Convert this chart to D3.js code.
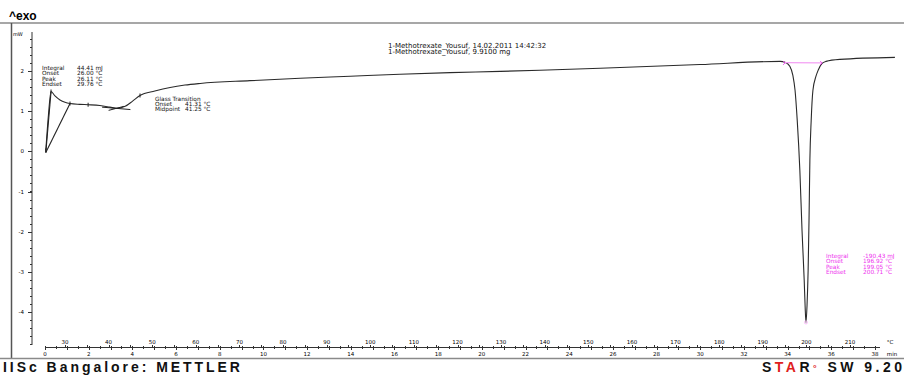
<!DOCTYPE html>
<html>
<head>
<meta charset="utf-8">
<script src="https://cdn.jsdelivr.net/npm/d3@7/dist/d3.min.js"></script>
<style>
  body { margin: 0; background: #fff; }
  svg { display: block; }
  text { font-family: "DejaVu Sans", sans-serif; }
</style>
</head>
<body>
<div id="chart"></div>
<script>
// DSC curve: temperature (°C) vs heat flow (mW)
const tempC = [25.6, 26.2, 26.8, 27.7, 28.85, 30.0, 31.15, 33.4, 35.3, 38.0, 40.3, 41.9, 43.8, 45.5, 47.2,
  50.6, 54.1, 57.5, 61.0, 72.4, 83.9, 95.4, 106.8, 118.3, 129.8, 138.9, 152.7, 175.6, 194.0, 195.1,
  196.2, 196.9, 197.4, 197.9, 198.5, 199.0, 199.5, 199.7, 199.9, 200.15, 200.4, 200.6, 200.8, 201.1,
  201.5, 202.2, 202.7, 203.6, 204.5, 207.7, 220.3];
const heatFlow = [0.02, 0.9, 1.49, 1.38, 1.28, 1.22, 1.19, 1.17, 1.16, 1.14, 1.1, 1.07, 1.12, 1.25, 1.39,
  1.5, 1.59, 1.65, 1.69, 1.76, 1.82, 1.87, 1.92, 1.96, 1.99, 2.02, 2.07, 2.16, 2.24, 2.22,
  2.12, 1.89, 1.52, 0.77, -0.47, -1.97, -3.21, -3.83, -4.26, -3.83, -2.96, -1.73, -0.22, 0.77,
  1.52, 1.87, 2.02, 2.19, 2.24, 2.29, 2.34];

const yTickValues = [-4, -3, -2, -1, 0, 1, 2];
const tempTicks = [30, 40, 50, 60, 70, 80, 90, 100, 110, 120, 130, 140, 150, 160, 170, 180, 190, 200, 210];
const timeTicks = d3.range(0, 39, 2);

const titleLines = ["1-Methotrexate_Yousuf, 14.02.2011 14:42:32", "1-Methotrexate_Yousuf, 9.9100 mg"];
const firstPeakLabels = ["Integral", "Onset", "Peak", "Endset"];
const firstPeakValues = ["44.41 mJ", "26.00 °C", "26.11 °C", "29.76 °C"];
const glassLabels = ["Glass Transition", "Onset", "Midpoint"];
const glassValues = ["", "41.31 °C", "41.25 °C"];
const meltLabels = ["Integral", "Onset", "Peak", "Endset"];
const meltValues = ["-190.43 mJ", "196.92 °C", "199.05 °C", "200.71 °C"];

const width = 904, height = 375;

const svg = d3.select('#chart').append('svg')
  .attr('width', width)
  .attr('height', height);

const x = d3.scaleLinear().domain([30, 210]).range([65, 850]);   // temperature
const xt = d3.scaleLinear().domain([0, 38]).range([45, 875]);    // time, min
const y = d3.scaleLinear().domain([-4, 2]).range([312, 71]);

// frame
svg.append('line').attr('x1', 0).attr('x2', width).attr('y1', 23).attr('y2', 23)
  .attr('stroke', '#8a8a8a').attr('stroke-width', 1.5);
svg.append('line').attr('x1', 11.5).attr('x2', 11.5).attr('y1', 23).attr('y2', 358)
  .attr('stroke', '#555').attr('stroke-width', 1.5);
svg.append('line').attr('x1', 0).attr('x2', width).attr('y1', 358.5).attr('y2', 358.5)
  .attr('stroke', '#8a8a8a').attr('stroke-width', 1.5);

svg.append('text').attr('x', 9).attr('y', 19.5)
  .style('font-family', 'Liberation Sans, Arial, sans-serif').style('font-weight', 'bold').style('font-size', '12px')
  .text('^exo');

// y axis
const yAxisG = svg.append('g').attr('transform', 'translate(32,0)');
yAxisG.append('line').attr('y1', 32).attr('y2', 345).attr('stroke', '#333');
yAxisG.selectAll('.minor').data(d3.range(-4.8, 3.0, 0.2)).join('line')
  .attr('x1', -2).attr('x2', 0)
  .attr('y1', d => Math.round(y(d)) + 0.5).attr('y2', d => Math.round(y(d)) + 0.5)
  .attr('stroke', '#333');
yAxisG.selectAll('.major').data(yTickValues).join('line')
  .attr('x1', -4).attr('x2', 0)
  .attr('y1', d => Math.round(y(d)) + 0.5).attr('y2', d => Math.round(y(d)) + 0.5)
  .attr('stroke', '#333');
yAxisG.selectAll('text').data(yTickValues).join('text')
  .attr('x', -8).attr('y', d => y(d) + 2)
  .attr('text-anchor', 'end').style('font-size', '5.5px')
  .text(d => d);
svg.append('text').attr('x', 13).attr('y', 35.5).style('font-size', '5px').text('mW');

// x axes (temperature above, time below)
const xAxisY = 347;
svg.append('line').attr('x1', 45).attr('x2', 880).attr('y1', xAxisY + 0.5).attr('y2', xAxisY + 0.5)
  .attr('stroke', '#333');
svg.selectAll('.tmin').data(d3.range(0, 38.01, 0.5)).join('line')
  .attr('x1', d => Math.round(xt(d)) + 0.5).attr('x2', d => Math.round(xt(d)) + 0.5)
  .attr('y1', xAxisY - 1).attr('y2', d => xAxisY + (d % 1 === 0 ? 3 : 2))
  .attr('stroke', '#333');
svg.selectAll('.ttick').data(d3.range(30, 211, 5)).join('line')
  .attr('x1', d => Math.round(x(d)) + 0.5).attr('x2', d => Math.round(x(d)) + 0.5)
  .attr('y1', xAxisY - 2).attr('y2', xAxisY)
  .attr('stroke', '#333');
svg.selectAll('.tlab').data(tempTicks).join('text')
  .attr('x', d => x(d)).attr('y', 343.5)
  .attr('text-anchor', 'middle').style('font-size', '5.5px')
  .text(d => d);
svg.selectAll('.mlab').data(timeTicks).join('text')
  .attr('x', d => xt(d)).attr('y', 356)
  .attr('text-anchor', 'middle').style('font-size', '5.5px')
  .text(d => d);
svg.append('text').attr('x', 890).attr('y', 343.5).attr('text-anchor', 'middle').style('font-size', '5.5px').text('°C');
svg.append('text').attr('x', 892).attr('y', 356).attr('text-anchor', 'middle').style('font-size', '5.5px').text('min');

// curve
const line = d3.line()
  .x((d, i) => x(tempC[i]))
  .y((d, i) => y(heatFlow[i]))
  .curve(d3.curveMonotoneX);

svg.append('path')
  .datum(tempC)
  .attr('d', line)
  .attr('fill', 'none')
  .attr('stroke', '#2a2a2a')
  .attr('stroke-width', 1.1);

// evaluation lines on the first peak and glass transition
svg.append('line')
  .attr('x1', x(tempC[0])).attr('y1', y(-0.03))
  .attr('x2', x(tempC[6])).attr('y2', y(heatFlow[6]))
  .attr('stroke', '#222').attr('stroke-width', 1.1);
svg.append('line')
  .attr('x1', x(tempC[0])).attr('y1', y(-0.03))
  .attr('x2', x(tempC[2])).attr('y2', y(heatFlow[2]))
  .attr('stroke', '#222').attr('stroke-width', 1.1);
svg.append('line')
  .attr('x1', x(38.5)).attr('y1', y(1.1))
  .attr('x2', x(45)).attr('y2', y(1.04))
  .attr('stroke', '#222');
svg.append('line')
  .attr('x1', x(40)).attr('y1', y(1.02))
  .attr('x2', x(43.5)).attr('y2', y(1.12))
  .attr('stroke', '#222');
const markIdx = [0, 2, 6, 8, 14];
svg.selectAll('.mark').data(markIdx).join('line')
  .attr('x1', i => x(tempC[i])).attr('x2', i => x(tempC[i]))
  .attr('y1', i => y(heatFlow[i]) - 2).attr('y2', i => y(heatFlow[i]) + 2)
  .attr('stroke', '#222');

// melting peak baseline (pink)
const pink = '#ee33ee';
svg.append('line')
  .attr('x1', x(195.1)).attr('y1', y(2.21))
  .attr('x2', x(203.6)).attr('y2', y(2.2))
  .attr('stroke', '#f4a0f4').attr('stroke-width', 1.2);
svg.selectAll('.pm').data([195.1, 203.6]).join('path')
  .attr('d', d => `M${x(d) - 2},${y(2.2) - 2}L${x(d)},${y(2.2)}L${x(d) - 2},${y(2.2) + 2}`)
  .attr('fill', 'none').attr('stroke', pink).attr('stroke-width', 0.8);
svg.append('circle').attr('cx', x(199.9)).attr('cy', y(-4.26)).attr('r', 1.5)
  .attr('fill', 'none').attr('stroke', '#f4a0f4').attr('stroke-width', 0.7);

// text annotations
const small = '5.8px';
function block(labels, values, lx, vx, y0, dy, color) {
  const g = svg.append('g').style('font-size', small).attr('fill', color);
  g.selectAll('.l').data(labels).join('text')
    .attr('x', lx).attr('y', (d, i) => y0 + i * dy).text(d => d);
  g.selectAll('.v').data(values).join('text')
    .attr('x', vx).attr('y', (d, i) => y0 + i * dy).text(d => d);
}
block(firstPeakLabels, firstPeakValues, 42, 77, 70, 5.3, '#111');
block(glassLabels, glassValues, 155, 185, 101, 5, '#111');
block(meltLabels, meltValues, 826, 863, 258, 5.3, pink);

svg.selectAll('.title').data(titleLines).join('text')
  .attr('x', 388).attr('y', (d, i) => 47.5 + i * 6.5)
  .style('font-size', '7px').attr('fill', '#111')
  .text(d => d);

// footer
svg.append('text').attr('x', 3).attr('y', 371.5)
  .attr('textLength', 237).attr('lengthAdjust', 'spacing')
  .style('font-family', 'Liberation Sans, Arial, sans-serif').style('font-weight', 'bold').style('font-size', '14px')
  .attr('fill', '#111')
  .text('IISc Bangalore: METTLER');
const star = svg.append('text').attr('x', 762).attr('y', 371.5)
  .attr('textLength', 140).attr('lengthAdjust', 'spacing')
  .style('font-family', 'Liberation Sans, Arial, sans-serif').style('font-weight', 'bold').style('font-size', '14px')
  .attr('fill', '#111');
star.append('tspan').text('S');
star.append('tspan').attr('fill', '#e02020').text('TA');
star.append('tspan').text('R');
star.append('tspan').attr('fill', '#e02020').attr('dy', -1).style('font-size', '9px').text('°');
star.append('tspan').attr('dy', 1).text(' SW 9.20');
</script>
</body>
</html>
